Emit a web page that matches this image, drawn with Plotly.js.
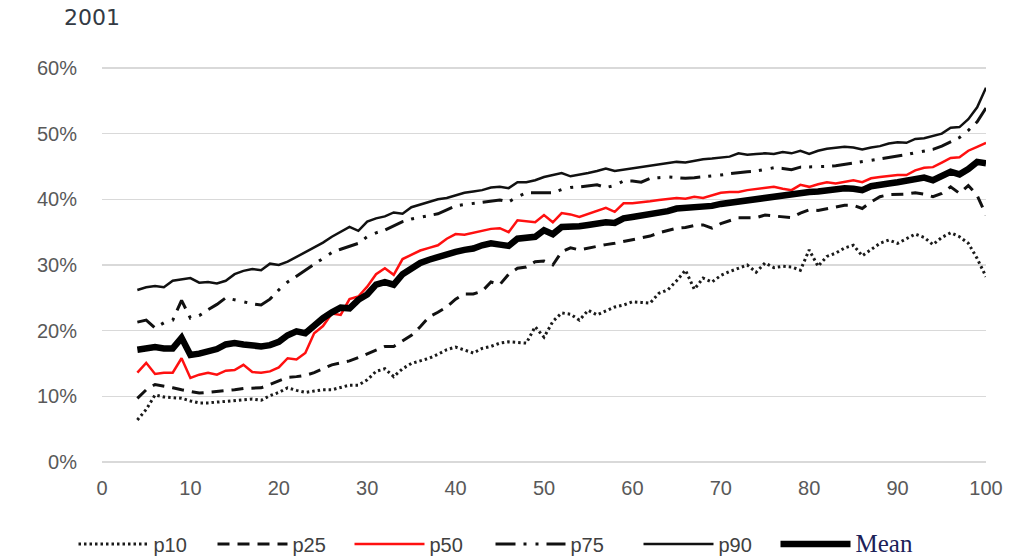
<!DOCTYPE html>
<html>
<head>
<meta charset="utf-8">
<script src="https://cdn.plot.ly/plotly-3.0.1.min.js"></script>
<style>
  html, body { margin: 0; padding: 0; background: #ffffff; }
  #chart { width: 1028px; height: 560px; }
</style>
</head>
<body>
<div id="chart"></div>
<script>
// Percentile (x axis: 4 .. 100)
const percentile = [];
for (let i = 4; i <= 100; i++) percentile.push(i);

// Share values (%) by percentile, year 2001
const p10 = [6.4, 8.0, 10.2, 9.9, 9.8, 9.7, 9.3, 9.0, 9.0, 9.1, 9.2, 9.4, 9.5, 9.6, 9.4, 10.1, 10.6, 11.3, 10.9, 10.6,
  10.8, 11.0, 11.0, 11.3, 11.7, 11.7, 12.5, 13.8, 14.2, 13.0, 14.2, 15.0, 15.4, 15.8, 16.4, 17.1, 17.5, 17.0, 16.6, 17.3,
  17.6, 18.1, 18.3, 18.2, 18.1, 20.6, 19.0, 21.4, 22.7, 22.5, 21.6, 23.1, 22.4, 23.0, 23.6, 23.9, 24.4, 24.3, 24.2, 25.7,
  26.2, 27.6, 29.2, 26.3, 28.0, 27.4, 28.4, 29.0, 29.5, 30.0, 28.9, 30.3, 29.6, 29.8, 29.7, 29.2, 32.3, 29.8, 31.3, 31.8,
  32.6, 33.0, 31.4, 32.3, 33.3, 33.8, 33.3, 34.0, 34.7, 34.2, 33.1, 34.2, 34.9, 34.3, 33.3, 31.0, 28.2];

const p25 = [9.7, 11.0, 11.8, 11.6, 11.3, 11.0, 10.7, 10.5, 10.6, 10.7, 10.8, 11.0, 11.2, 11.3, 11.3, 11.8, 12.4, 12.9, 13.0, 13.2,
  13.6, 14.2, 14.8, 15.1, 15.4, 15.9, 16.5, 17.0, 17.6, 17.6, 18.5, 19.3, 20.6, 22.1, 22.8, 23.6, 24.8, 25.6, 25.6, 26.0,
  27.4, 27.0, 28.6, 29.5, 29.7, 30.5, 30.6, 30.0, 32.0, 32.6, 32.3, 32.6, 32.9, 33.1, 33.3, 33.6, 33.8, 34.1, 34.4, 34.9,
  35.3, 35.6, 35.7, 36.0, 36.1, 35.6, 36.3, 36.8, 37.2, 37.2, 37.2, 37.6, 37.5, 37.3, 37.2, 37.9, 38.4, 38.3, 38.6, 38.8,
  39.1, 39.1, 38.6, 39.6, 40.4, 40.7, 40.7, 40.8, 41.0, 40.8, 40.4, 40.9, 41.9, 40.9, 42.1, 40.6, 37.6];

const p50 = [13.6, 15.1, 13.4, 13.6, 13.6, 15.8, 12.8, 13.3, 13.6, 13.3, 13.9, 14.0, 14.8, 13.7, 13.6, 13.8, 14.4, 15.8, 15.6, 16.6,
  19.6, 20.7, 22.6, 22.4, 24.8, 25.2, 26.7, 28.6, 29.5, 28.5, 30.9, 31.6, 32.2, 32.6, 33.0, 34.0, 34.7, 34.6, 34.9, 35.2,
  35.5, 35.6, 35.0, 36.8, 36.7, 36.5, 37.6, 36.5, 37.9, 37.7, 37.3, 37.8, 38.2, 38.7, 38.1, 39.4, 39.4, 39.5, 39.7, 39.9,
  40.0, 40.2, 40.1, 40.4, 40.2, 40.6, 41.0, 41.1, 41.1, 41.4, 41.6, 41.8, 41.9, 41.6, 41.4, 42.2, 41.9, 42.3, 42.6, 42.4,
  42.6, 42.9, 42.6, 43.2, 43.4, 43.6, 43.7, 43.7, 44.4, 44.8, 44.9, 45.6, 46.3, 46.4, 47.4, 48.0, 48.6];

const p75 = [21.3, 21.6, 20.4, 21.2, 21.6, 24.6, 21.9, 22.3, 23.2, 24.0, 25.0, 24.7, 24.3, 24.1, 23.9, 24.8, 26.2, 27.4, 28.3, 29.2,
  30.0, 30.9, 31.9, 32.4, 32.8, 33.3, 34.3, 34.9, 35.3, 35.9, 36.6, 37.0, 37.3, 37.6, 37.8, 38.4, 39.0, 39.2, 39.4, 39.5,
  39.7, 39.9, 39.6, 40.4, 41.0, 41.0, 41.1, 41.0, 41.5, 41.8, 41.9, 42.1, 42.2, 41.8, 42.1, 42.8, 42.8, 42.6, 43.2, 43.3,
  43.4, 43.3, 43.2, 43.3, 43.4, 43.5, 43.7, 43.9, 44.1, 44.2, 44.3, 44.5, 44.8, 44.7, 44.5, 44.9, 44.9, 44.9, 45.0, 45.1,
  45.3, 45.5, 45.7, 46.0, 46.1, 46.3, 46.5, 46.8, 47.1, 47.3, 47.6, 48.1, 48.7, 49.4, 50.5, 51.8, 53.9];

const p90 = [26.2, 26.6, 26.8, 26.6, 27.6, 27.8, 28.0, 27.3, 27.4, 27.2, 27.6, 28.6, 29.1, 29.4, 29.2, 30.2, 30.0, 30.5, 31.2, 32.0,
  32.6, 33.4, 34.3, 35.0, 35.8, 35.2, 36.6, 37.1, 37.4, 38.0, 37.8, 38.8, 39.2, 39.6, 40.0, 40.2, 40.6, 41.0, 41.2, 41.4,
  41.8, 41.9, 41.7, 42.6, 42.6, 42.9, 43.4, 43.7, 44.0, 43.5, 43.7, 44.0, 44.3, 44.7, 44.3, 44.5, 44.8, 45.0, 45.2, 45.4,
  45.5, 45.7, 45.6, 45.9, 46.1, 46.2, 46.3, 46.5, 47.0, 46.8, 46.9, 47.0, 46.9, 47.2, 47.0, 47.4, 46.9, 47.4, 47.7, 47.9,
  48.0, 47.9, 47.6, 47.9, 48.1, 48.5, 48.7, 48.6, 49.2, 49.3, 49.6, 50.0, 50.9, 51.0, 52.2, 54.0, 57.0];

const mean = [17.1, 17.4, 17.5, 17.3, 17.3, 18.9, 16.3, 16.5, 16.9, 17.2, 17.9, 18.1, 17.9, 17.8, 17.6, 17.8, 18.3, 19.3, 19.9, 19.6,
  20.9, 21.9, 22.8, 23.5, 23.4, 24.7, 25.5, 27.0, 27.4, 27.0, 28.6, 29.6, 30.3, 30.8, 31.2, 31.8, 32.0, 32.3, 32.5, 33.0,
  33.3, 33.1, 32.9, 34.0, 34.1, 34.3, 35.3, 34.7, 35.8, 35.8, 35.9, 36.1, 36.3, 36.5, 36.4, 37.1, 37.3, 37.5, 37.7, 37.9,
  38.2, 38.6, 38.7, 38.7, 38.8, 39.0, 39.3, 39.5, 39.6, 39.8, 40.0, 40.2, 40.4, 40.6, 40.7, 40.9, 41.1, 41.2, 41.4, 41.6,
  41.7, 41.6, 41.4, 42.0, 42.3, 42.4, 42.6, 42.9, 43.2, 43.3, 42.9, 43.6, 44.2, 43.8, 44.6, 45.7, 45.5];

const seriesNames = ['p10', 'p25', 'p50', 'p75', 'p90', 'Mean'];
const yTicks = [0, 10, 20, 30, 40, 50, 60];
const xTicks = [0, 10, 20, 30, 40, 50, 60, 70, 80, 90, 100];

const lineStyles = [
  { color: '#1a1a1a', width: 3, dash: '2.5px,3px' },
  { color: '#111111', width: 3, dash: '12px,8px' },
  { color: '#ff1010', width: 2.5, dash: 'solid' },
  { color: '#111111', width: 3, dash: '20px,8px,3px,9px,3px,8px' },
  { color: '#111111', width: 2.5, dash: 'solid' },
  { color: '#000000', width: 6.5, dash: 'solid' }
];
const legendWidths = [54, 52, 56, 63, 52, 60];

const values = [p10, p25, p50, p75, p90, mean];
const traces = values.map((v, i) => ({
  type: 'scatter',
  mode: 'lines',
  x: percentile,
  y: v,
  name: seriesNames[i] === 'Mean'
    ? '<span style="font-family:\'Liberation Serif\', serif;font-size:25px;color:#1c2159">Mean</span>'
    : seriesNames[i],
  line: lineStyles[i],
  legendwidth: legendWidths[i],
  hoverinfo: 'x+y+name'
}));

const layout = {
  width: 1028,
  height: 560,
  paper_bgcolor: '#ffffff',
  plot_bgcolor: '#ffffff',
  margin: { l: 102, r: 42, t: 66, b: 98 },
  font: { family: 'Liberation Sans, Arial, sans-serif', size: 20, color: '#595959' },
  showlegend: true,
  legend: {
    orientation: 'h',
    xref: 'container',
    x: 73.5 / 1028,
    xanchor: 'left',
    yref: 'container',
    y: 1 - 544 / 560,
    yanchor: 'middle',
    itemwidth: 70,
    traceorder: 'normal',
    font: { family: 'Liberation Sans, Arial, sans-serif', size: 20, color: '#404040' },
    bgcolor: 'rgba(0,0,0,0)'
  },
  xaxis: {
    range: [0, 100],
    tickvals: xTicks,
    ticktext: xTicks.map(String),
    showgrid: false,
    zeroline: false,
    showline: false,
    ticks: '',
    ticklabelstandoff: 12,
    tickfont: { size: 20, color: '#595959' },
    fixedrange: true
  },
  yaxis: {
    range: [0, 60.3],
    tickvals: yTicks,
    ticktext: yTicks.map(t => t + '%'),
    showgrid: true,
    gridcolor: '#d9d9d9',
    gridwidth: 1.2,
    zeroline: true,
    zerolinecolor: '#d9d9d9',
    zerolinewidth: 1.2,
    showline: false,
    ticks: '',
    ticklabelstandoff: 24,
    tickfont: { size: 20, color: '#595959' },
    fixedrange: true
  },
  annotations: [{
    text: '2001',
    xref: 'paper', yref: 'paper',
    x: -0.045, y: 1.0,
    xanchor: 'left', yanchor: 'bottom',
    yshift: 34,
    showarrow: false,
    font: { family: 'DejaVu Sans, sans-serif', size: 22, color: '#333a44' }
  }]
};

Plotly.newPlot('chart', traces, layout, { displayModeBar: false, staticPlot: true });
</script>
</body>
</html>
